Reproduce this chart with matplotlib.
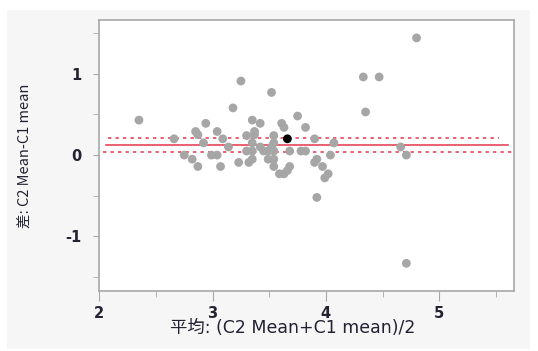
import matplotlib
matplotlib.use("Agg")
import matplotlib.pyplot as plt
from matplotlib.patches import Rectangle
from matplotlib.ticker import MultipleLocator

plt.rcParams["axes.unicode_minus"] = False

# Bland-Altman style data: mean of the two methods vs difference
mean_vals = [2.35, 2.66, 2.75, 2.82, 2.87, 2.85, 2.87, 2.92, 2.94, 2.99,
             3.04, 3.04, 3.07, 3.09, 3.14, 3.18, 3.25, 3.23, 3.30, 3.30,
             3.32, 3.35, 3.35, 3.35, 3.35, 3.37, 3.37, 3.42, 3.42, 3.45,
             3.49, 3.49, 3.52, 3.54, 3.54, 3.54, 3.54, 3.54, 3.52, 3.59,
             3.63, 3.66, 3.68, 3.61, 3.63, 3.68, 3.75, 3.78, 3.82, 3.82,
             3.90, 3.90, 3.92, 3.92, 3.97, 4.02, 3.99, 4.04, 4.07, 4.33,
             4.47, 4.35, 4.66, 4.71, 4.71, 4.80]
diff_vals = [0.43, 0.20, 0.00, -0.05, -0.14, 0.29, 0.25, 0.15, 0.39, 0.00,
             0.00, 0.29, -0.14, 0.20, 0.10, 0.58, 0.91, -0.09, 0.24, 0.05,
             -0.09, -0.05, 0.43, 0.15, 0.05, 0.29, 0.25, 0.10, 0.39, 0.05,
             0.05, -0.05, 0.77, 0.24, 0.15, 0.05, -0.05, -0.14, 0.10, -0.23,
             -0.23, -0.19, -0.14, 0.39, 0.34, 0.05, 0.48, 0.05, 0.05, 0.34,
             0.20, -0.09, -0.05, -0.52, -0.14, -0.23, -0.28, 0.00, 0.15, 0.96,
             0.96, 0.53, 0.10, 0.00, -1.33, 1.44]
centre_pt = (3.66, 0.20)

mean_diff = 0.127
ci_upper = 0.209
ci_lower = 0.041

fig = plt.figure(figsize=(5.38, 3.51), dpi=100)
fig.patch.set_facecolor("white")
fig.patches.append(Rectangle((7 / 538, 1 - 349 / 351), 523 / 538, 339 / 351,
                             transform=fig.transFigure, facecolor="#f6f6f6",
                             edgecolor="none", zorder=-5))

ax = fig.add_axes([99.3 / 538, 1 - 291 / 351, 414.7 / 538, 271 / 351])
ax.set_zorder(2)
ax.set_facecolor("white")

ax.scatter(mean_vals, diff_vals, s=40, color="#a6a6a6", edgecolors="none", zorder=3)
ax.scatter([centre_pt[0]], [centre_pt[1]], s=40, color="black", edgecolors="none", zorder=4)

ax.axhline(mean_diff, xmin=0.015, xmax=0.985, color="#e8455a", lw=1.2, zorder=2)
ax.axhline(ci_upper, xmin=0.02, xmax=0.965, color="#e8455a", lw=1.2, ls=(0, (2, 2.5)), zorder=2)
ax.axhline(ci_lower, xmin=0.01, xmax=0.995, color="#e8455a", lw=1.2, ls=(0, (2, 2.5)), zorder=2)

ax.set_xlim(2, 5.66)
ax.set_ylim(-1.67, 1.66)
ax.xaxis.set_major_locator(MultipleLocator(1))
ax.xaxis.set_minor_locator(MultipleLocator(0.5))
ax.yaxis.set_major_locator(MultipleLocator(1))
ax.yaxis.set_minor_locator(MultipleLocator(0.5))

for sp in ax.spines.values():
    sp.set_color("#a8a8a8")
    sp.set_linewidth(1.2)

ax.tick_params(which="major", length=7, color="#a8a8a8", labelsize=10.5, labelcolor="#222233")
ax.tick_params(which="minor", length=4, color="#a8a8a8")
ax.tick_params(axis="y", which="both", length=4, pad=9)
for lbl in ax.get_xticklabels() + ax.get_yticklabels():
    lbl.set_family("DejaVu Sans")
    lbl.set_fontweight("bold")

ax.set_xlabel("平均: (C2 Mean+C1 mean)/2", family=["DejaVu Sans", "Noto Sans CJK JP"],
              fontsize=12.5, color="#222233", labelpad=2)
ax.xaxis.set_label_coords(0.467, -0.105)
ax.set_ylabel("差: C2 Mean-C1 mean", family=["Noto Sans CJK JP", "DejaVu Sans"],
              fontsize=10.5, color="#222233", labelpad=24)

fig.savefig("out.png", dpi=100)
